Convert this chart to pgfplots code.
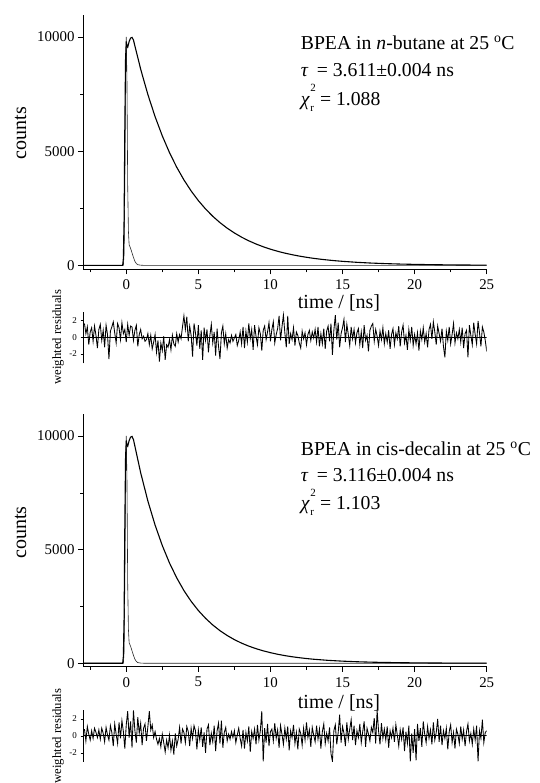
\documentclass[border=0pt]{standalone}
\usepackage{fontspec}
\setmainfont{Liberation Serif}
\usepackage{pgfplots}
\pgfplotsset{compat=1.18}
\pgfplotsset{
 mainax/.style={scale only axis, width=403.7pt, anchor=south west,
  axis x line=bottom, axis y line=left, axis line style={-, line width=0.7pt},
  xmin=-3, xmax=25, xtick={0,5,10,15,20,25}, minor xtick={-2.5,2.5,7.5,12.5,17.5,22.5},
  ytick={0,5000,10000}, minor ytick={2500,7500},
  tick align=outside, major tick length=5pt, minor tick length=3pt,
  tick style={black, line width=0.6pt},
  ticklabel style={font=\fontsize{14.9}{15}\selectfont},
  xticklabel style={yshift=-2pt},
  scaled y ticks=false, yticklabel style={/pgf/number format/1000 sep={}},
  /pgf/number format/assume math mode=true, clip=false},
 resax/.style={scale only axis, width=403.7pt, anchor=south west,
  axis x line=none, axis y line=left, axis line style={-, line width=0.7pt},
  xmin=-3, xmax=25, ytick={-2,0,2},
  tick align=outside, major tick length=2.5pt,
  tick style={black, line width=0.5pt},
  ticklabel style={font=\fontsize{9}{9}\selectfont},
  /pgf/number format/assume math mode=true},
}
\begin{document}
\begin{tikzpicture}[x=1pt,y=1pt]
\useasboundingbox (0,0) rectangle (539,783);
% ---------------- top panel -----------------
\begin{axis}[mainax, at={(83pt,513.7pt)}, height=254.3pt, ymin=-170, ymax=10960]
\addplot[black!85, line width=0.6pt] coordinates {(-3,0)(-0.2,0)(-0.15,500)(-0.1,3500)(-0.05,8000)(0,10000)(0.05,8000)(0.1,3500)(0.15,1500)(0.2,900)(0.3,750)(0.4,550)(0.5,350)(0.6,180)(0.7,80)(0.8,30)(1.0,10)(1.3,0)(25,0)};
\addplot[black, line width=1.1pt] coordinates {(-3,0)(-0.25,0)(-0.2,300)(-0.15,2000)(-0.1,6000)(-0.05,9000)(0,9800)(0.05,9600)(0.1,9550)(0.2,9800)(0.3,9950)(0.4,9980)(0.5,9862)(1.0,8587)(1.5,7477)(2.0,6510)(2.5,5668)(3.0,4935)(3.5,4297)(4.0,3742)(4.5,3258)(5.0,2837)(5.5,2470)(6.0,2150)(6.5,1872)(7.0,1630)(7.5,1420)(8.0,1236)(8.5,1076)(9.0,937)(9.5,816)(10,710)(10.5,618)(11,538)(11.5,469)(12,408)(12.5,355)(13,309)(13.5,269)(14,235)(14.5,204)(15,178)(16,135)(17,102)(18,78)(19,59)(20,45)(21,34)(22,26)(23,19)(24,15)(25,11)};
\end{axis}
\begin{axis}[resax, at={(83pt,419.7pt)}, height=51.6pt, ymin=-3.1, ymax=3]
\addplot[black, line width=0.8pt] coordinates {(-3,0)(25,0)};
\addplot[black, line width=0.85pt] coordinates {
(-2.9,1.6)(-2.8,0.4)(-2.7,1.2)(-2.6,-0.9)(-2.5,0.6)(-2.4,1.1)(-2.3,-0.5)(-2.2,1.3)(-2.1,0.2)(-2.0,-1.3)
(-1.9,0.9)(-1.8,1.5)(-1.7,-0.4)(-1.6,0.8)(-1.5,-1.2)(-1.4,1.4)(-1.3,0.3)(-1.2,-2.6)(-1.1,0.7)(-1.0,1.2)
(-0.9,1.8)(-0.8,0.5)(-0.7,-0.7)(-0.6,1.6)(-0.5,1.1)(-0.4,-0.3)(-0.3,1.7)(-0.2,0.4)(-0.1,0.9)(0.0,-0.6)
(0.1,1.5)(0.2,0.2)(0.3,1.3)(0.4,1.2)(0.5,-0.4)(0.6,0.8)(0.7,1.4)(0.8,-1.1)(0.9,0.3)(1.0,0.9)
(1.1,-0.2)(1.2,0.1)(1.3,-0.5)(1.4,-0.3)(1.5,0.4)(1.6,-0.9)(1.7,0.2)(1.8,-1.4)(1.9,-0.6)(2.0,0.3)
(2.1,-1.8)(2.2,-0.4)(2.3,-2.9)(2.4,-0.7)(2.5,-1.6)(2.6,0.1)(2.7,-2.7)(2.8,-0.9)(2.9,-1.2)(3.0,-0.3)
(3.1,-1.5)(3.2,0.2)(3.3,-0.8)(3.4,-1.1)(3.5,0.4)(3.6,-0.6)(3.7,0.3)(3.8,-0.2)(3.9,1.2)(4.0,2.5)
(4.1,0.9)(4.2,2.4)(4.3,-0.5)(4.4,1.3)(4.5,0.2)(4.6,-2.3)(4.7,1.6)(4.8,0.5)(4.9,-1.0)(5.0,1.4)
(5.1,-1.4)(5.2,0.8)(5.3,-2.7)(5.4,1.1)(5.5,-0.4)(5.6,0.9)(5.7,-1.8)(5.8,0.2)(5.9,1.5)(6.0,-0.7)
(6.1,0.6)(6.2,-2.2)(6.3,1.0)(6.4,-1.1)(6.5,-2.6)(6.6,0.5)(6.7,1.3)(6.8,-0.8)(6.9,0.4)(7.0,-1.3)
(7.1,-0.3)(7.2,-0.7)(7.3,0.2)(7.4,-0.5)(7.5,-0.1)(7.6,0.3)(7.7,-1.0)(7.8,-0.4)(7.9,0.6)(8.0,-0.8)
(8.1,1.2)(8.2,-1.3)(8.3,0.7)(8.4,-0.6)(8.5,1.6)(8.6,-0.2)(8.7,0.9)(8.8,-1.5)(8.9,1.4)(9.0,0.1)
(9.1,-0.9)(9.2,1.1)(9.3,0.4)(9.4,-1.6)(9.5,0.8)(9.6,1.3)(9.7,-0.3)(9.8,0.6)(9.9,1.7)(10.0,-0.5)
(10.1,0.9)(10.2,1.8)(10.3,-0.7)(10.4,0.3)(10.5,1.0)(10.6,2.5)(10.7,-0.4)(10.8,1.2)(10.9,2.6)(11.0,0.5)
(11.1,-1.2)(11.2,2.5)(11.3,-0.8)(11.4,0.4)(11.5,-0.3)(11.6,1.1)(11.7,-1.0)(11.8,0.6)(11.9,0.2)(12.0,-0.7)
(12.1,-1.3)(12.2,0.7)(12.3,-0.2)(12.4,0.5)(12.5,-0.9)(12.6,0.3)(12.7,0.8)(12.8,-0.4)(12.9,0.6)(13.0,-0.1)
(13.1,0.9)(13.2,-0.6)(13.3,1.2)(13.4,-1.1)(13.5,0.4)(13.6,-0.8)(13.7,1.0)(13.8,-1.4)(13.9,0.7)(14.0,1.3)
(14.1,-0.5)(14.2,1.6)(14.3,-2.1)(14.4,0.8)(14.5,2.6)(14.6,-0.3)(14.7,1.7)(14.8,-1.2)(14.9,0.4)(15.0,1.1)
(15.1,2.1)(15.2,-0.6)(15.3,1.5)(15.4,0.3)(15.5,-1.0)(15.6,1.2)(15.7,-0.2)(15.8,0.9)(15.9,-0.7)(16.0,0.5)
(16.1,1.0)(16.2,-0.9)(16.3,0.6)(16.4,-1.3)(16.5,1.4)(16.6,-0.4)(16.7,0.2)(16.8,-1.7)(16.9,0.8)(17.0,1.3)
(17.1,1.6)(17.2,-0.5)(17.3,0.9)(17.4,0.1)(17.5,-1.0)(17.6,0.7)(17.7,-0.3)(17.8,1.1)(17.9,-0.8)(18.0,0.4)
(18.1,-0.6)(18.2,0.8)(18.3,-1.4)(18.4,0.3)(18.5,1.0)(18.6,-0.9)(18.7,0.5)(18.8,-0.2)(18.9,1.3)(19.0,-1.1)
(19.1,0.6)(19.2,1.4)(19.3,-0.7)(19.4,0.2)(19.5,-1.5)(19.6,0.9)(19.7,-0.4)(19.8,1.2)(19.9,-1.0)(20.0,0.3)
(20.1,-0.8)(20.2,0.5)(20.3,-1.6)(20.4,0.7)(20.5,-0.3)(20.6,1.1)(20.7,-0.6)(20.8,0.4)(20.9,-1.2)(21.0,0.9)
(21.1,1.5)(21.2,-0.2)(21.3,1.8)(21.4,0.6)(21.5,-0.9)(21.6,1.3)(21.7,0.4)(21.8,-0.5)(21.9,1.0)(22.0,-1.1)
(22.1,-2.4)(22.2,0.7)(22.3,-0.4)(22.4,1.2)(22.5,-0.8)(22.6,0.3)(22.7,1.6)(22.8,-0.7)(22.9,0.5)(23.0,-0.2)
(23.1,0.9)(23.2,-0.6)(23.3,1.1)(23.4,-1.3)(23.5,0.4)(23.6,0.8)(23.7,-2.4)(23.8,1.4)(23.9,0.2)(24.0,-0.9)
(24.1,1.7)(24.2,0.3)(24.3,-0.8)(24.4,1.9)(24.5,0.5)(24.6,-1.1)(24.7,1.2)(24.8,0.6)(24.9,-0.4)(25.0,-1.7)};
\end{axis}
% ---------------- bottom panel -----------------
\begin{axis}[mainax, at={(83pt,116.3pt)}, height=252.7pt, ymin=-150, ymax=10968]
\addplot[black!85, line width=0.6pt] coordinates {(-3,0)(-0.2,0)(-0.15,500)(-0.1,3500)(-0.05,8000)(0,10000)(0.05,8000)(0.1,3500)(0.15,1500)(0.2,900)(0.3,750)(0.4,550)(0.5,350)(0.6,180)(0.7,80)(0.8,30)(1.0,10)(1.3,0)(25,0)};
\addplot[black, line width=1.1pt] coordinates {(-3,0)(-0.25,0)(-0.2,300)(-0.15,2000)(-0.1,6000)(-0.05,9000)(0,9800)(0.05,9600)(0.1,9550)(0.2,9800)(0.3,9950)(0.4,9980)(0.5,9841)(1.0,8382)(1.5,7139)(2.0,6081)(2.5,5180)(3.0,4412)(3.5,3758)(4.0,3200)(4.5,2726)(5.0,2322)(5.5,1978)(6.0,1685)(6.5,1435)(7.0,1222)(7.5,1041)(8.0,886)(8.5,755)(9.0,643)(9.5,548)(10,467)(10.5,397)(11,338)(11.5,288)(12,246)(12.5,209)(13,178)(14,129)(15,94)(16,68)(17,49)(18,36)(19,26)(20,19)(22,10)(25,4)};
\end{axis}
\begin{axis}[resax, at={(83pt,21.3pt)}, height=51.7pt, ymin=-3.05, ymax=3.05]
\addplot[black, line width=0.8pt] coordinates {(-3,0)(25,0)};
\addplot[black, line width=0.85pt] coordinates {
(-2.9,0.8)(-2.8,-0.6)(-2.7,1.1)(-2.6,0.2)(-2.5,-0.5)(-2.4,0.6)(-2.3,-0.3)(-2.2,0.9)(-2.1,0.4)(-2.0,-0.2)
(-1.9,0.7)(-1.8,-0.4)(-1.7,0.9)(-1.6,0.3)(-1.5,-0.7)(-1.4,1.0)(-1.3,0.1)(-1.2,-0.5)(-1.1,1.2)(-1.0,0.4)
(-0.9,-1.2)(-0.8,1.4)(-0.7,0.2)(-0.6,-0.9)(-0.5,1.6)(-0.4,-0.3)(-0.3,1.8)(-0.2,0.5)(-0.1,-1.5)(0.0,1.3)
(0.1,2.9)(0.2,-0.2)(0.3,1.7)(0.4,-1.4)(0.5,3.0)(0.6,0.6)(0.7,-0.8)(0.8,2.2)(0.9,0.3)(1.0,1.5)
(1.1,-1.1)(1.2,0.9)(1.3,1.4)(1.4,-0.6)(1.5,1.1)(1.6,2.9)(1.7,0.7)(1.8,1.3)(1.9,-0.2)(2.0,0.5)
(2.1,-0.4)(2.2,-1.0)(2.3,-0.3)(2.4,-1.3)(2.5,0.2)(2.6,-0.8)(2.7,-1.9)(2.8,-0.5)(2.9,-1.4)(3.0,0.1)
(3.1,-1.7)(3.2,-0.6)(3.3,-2.2)(3.4,0.3)(3.5,-1.2)(3.6,-0.4)(3.7,1.0)(3.8,-0.9)(3.9,0.8)(4.0,0.4)
(4.1,-0.8)(4.2,1.1)(4.3,0.5)(4.4,-1.2)(4.5,0.9)(4.6,-0.3)(4.7,1.2)(4.8,0.6)(4.9,-1.6)(5.0,0.7)
(5.1,-0.5)(5.2,1.0)(5.3,-1.3)(5.4,0.4)(5.5,-2.0)(5.6,0.8)(5.7,1.3)(5.8,-1.1)(5.9,0.3)(6.0,-0.7)
(6.1,1.2)(6.2,-1.8)(6.3,0.6)(6.4,1.5)(6.5,-0.9)(6.6,1.8)(6.7,-1.4)(6.8,0.4)(6.9,1.0)(7.0,-0.6)
(7.1,0.2)(7.2,-0.4)(7.3,0.5)(7.4,-0.2)(7.5,0.6)(7.6,-0.8)(7.7,0.1)(7.8,0.9)(7.9,-0.3)(8.0,-1.2)
(8.1,0.7)(8.2,-1.5)(8.3,0.4)(8.4,-0.6)(8.5,1.1)(8.6,-1.9)(8.7,0.5)(8.8,-0.3)(8.9,0.8)(9.0,-1.0)
(9.1,1.3)(9.2,-0.5)(9.3,0.6)(9.4,2.9)(9.5,-3.0)(9.6,0.9)(9.7,-0.8)(9.8,1.4)(9.9,-1.2)(10.0,0.5)
(10.1,0.8)(10.2,-0.6)(10.3,1.5)(10.4,-0.3)(10.5,0.7)(10.6,-1.4)(10.7,1.2)(10.8,0.2)(10.9,-1.0)(11.0,0.9)
(11.1,-0.4)(11.2,1.1)(11.3,-1.7)(11.4,0.6)(11.5,-0.2)(11.6,1.3)(11.7,-0.9)(11.8,0.4)(11.9,-1.6)(12.0,0.8)
(12.1,0.3)(12.2,-1.1)(12.3,0.9)(12.4,-0.5)(12.5,1.6)(12.6,-0.2)(12.7,0.7)(12.8,-1.3)(12.9,1.0)(13.0,0.1)
(13.1,-0.7)(13.2,1.2)(13.3,-0.4)(13.4,0.8)(13.5,-1.5)(13.6,0.5)(13.7,1.4)(13.8,-0.9)(13.9,0.3)(14.0,-0.6)
(14.1,1.0)(14.2,-2.1)(14.3,-3.0)(14.4,0.6)(14.5,1.3)(14.6,-1.0)(14.7,0.4)(14.8,2.5)(14.9,-0.8)(15.0,1.1)
(15.1,0.3)(15.2,-1.2)(15.3,1.6)(15.4,-0.4)(15.5,0.8)(15.6,1.9)(15.7,-0.5)(15.8,1.2)(15.9,-1.1)(16.0,0.6)
(16.1,-0.2)(16.2,1.4)(16.3,-0.8)(16.4,0.5)(16.5,1.7)(16.6,-1.3)(16.7,0.9)(16.8,0.2)(16.9,-0.6)(17.0,1.0)
(17.1,0.4)(17.2,2.1)(17.3,-0.9)(17.4,3.0)(17.5,0.6)(17.6,-1.0)(17.7,1.5)(17.8,-0.3)(17.9,0.8)(18.0,-0.5)
(18.1,1.1)(18.2,-1.4)(18.3,0.6)(18.4,-0.2)(18.5,0.9)(18.6,-0.7)(18.7,1.3)(18.8,0.1)(18.9,-1.2)(19.0,0.7)
(19.1,-0.4)(19.2,1.0)(19.3,-1.8)(19.4,0.5)(19.5,-0.9)(19.6,1.2)(19.7,-3.0)(19.8,0.3)(19.9,-2.0)(20.0,0.8)
(20.1,-2.9)(20.2,1.4)(20.3,-0.6)(20.4,0.9)(20.5,-1.3)(20.6,1.7)(20.7,0.2)(20.8,-0.8)(20.9,1.1)(21.0,-0.3)
(21.1,0.7)(21.2,-1.0)(21.3,1.6)(21.4,-0.5)(21.5,0.4)(21.6,2.0)(21.7,-0.7)(21.8,1.2)(21.9,-1.1)(22.0,0.6)
(22.1,-0.3)(22.2,0.9)(22.3,-1.6)(22.4,0.5)(22.5,1.3)(22.6,-0.8)(22.7,0.4)(22.8,-1.5)(22.9,0.8)(23.0,0.2)
(23.1,-0.9)(23.2,1.1)(23.3,-0.4)(23.4,0.7)(23.5,-1.2)(23.6,0.5)(23.7,1.4)(23.8,-0.6)(23.9,0.3)(24.0,-1.0)
(24.1,0.8)(24.2,-0.5)(24.3,1.2)(24.4,-3.0)(24.5,0.6)(24.6,-0.3)(24.7,1.9)(24.8,-0.8)(24.9,0.4)(25.0,0.6)};
\end{axis}
% ---------------- labels -----------------
\node[rotate=90, font=\fontsize{20}{22}\selectfont] at (20.5,650) {counts};
\node[rotate=90, font=\fontsize{20}{22}\selectfont] at (20.5,250.5) {counts};
\node[font=\fontsize{20}{22}\selectfont] at (339,479.7) {time / [ns]};
\node[font=\fontsize{20}{22}\selectfont] at (339,79.7) {time / [ns]};
\node[rotate=90, font=\fontsize{12.7}{13}\selectfont] at (58,446) {weighted residuals};
\node[rotate=90, font=\fontsize{12.7}{13}\selectfont] at (58,47) {weighted residuals};
\begin{scope}[every node/.style={anchor=base west, inner sep=0pt, font=\fontsize{19.7}{22}\selectfont}]
\node at (300.7,733.2) {BPEA in \textit{n}-butane at 25 \textsuperscript{o}C};
\node at (300.7,706.5) {\textit{τ}\, = 3.611±0.004 ns};
\node at (300.7,677.2) {\textit{χ}\kern0.5pt\rlap{\raisebox{0.7em}{\fontsize{11}{11}\selectfont 2}}\raisebox{-0.3em}{\fontsize{11}{11}\selectfont r}\kern1pt{} = 1.088};
\node at (300.7,327.2) {BPEA in cis-decalin at 25 \textsuperscript{o}C};
\node at (300.7,301.5) {\textit{τ}\, = 3.116±0.004 ns};
\node at (300.7,273.2) {\textit{χ}\kern0.5pt\rlap{\raisebox{0.7em}{\fontsize{11}{11}\selectfont 2}}\raisebox{-0.3em}{\fontsize{11}{11}\selectfont r}\kern1pt{} = 1.103};
\end{scope}
\end{tikzpicture}
\end{document}
